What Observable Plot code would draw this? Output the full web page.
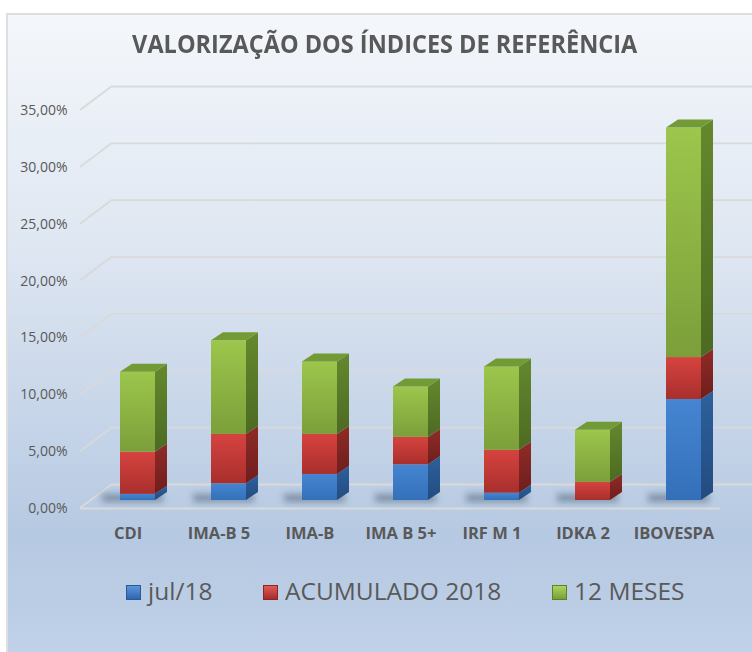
<!DOCTYPE html>
<html>
<head>
<meta charset="utf-8">
<script src="https://cdn.jsdelivr.net/npm/d3@7"></script>
<script src="https://cdn.jsdelivr.net/npm/@observablehq/plot@0.6"></script>
<style>
html, body { margin: 0; padding: 0; background: #ffffff; width: 752px; height: 652px; overflow: hidden; font-family: "Open Sans", sans-serif; }
#frame { position: absolute; left: 6px; top: 13px; width: 760px; height: 650px;
  border-left: 2px solid #dedede; border-top: 2px solid #dedede;
  background: linear-gradient(to bottom, #f4f7fb 0%, #dfe7f2 35%, #b6c9e2 80%, #c1d2e9 100%); }
#title { position: absolute; left: 0; top: 28px; width: 770px; text-align: center; }
#title span { display: inline-block; font-size: 25px; line-height: 30px; font-weight: bold; color: #595959; transform: scaleX(0.94); transform-origin: center; white-space: nowrap; }
#chart { position: absolute; left: 0; top: 75px; }
.leg { position: absolute; top: 576px; font-size: 24.5px; line-height: 30px; color: #595959; white-space: nowrap; }
.sq { position: absolute; top: 585px; width: 15px; height: 15px; box-sizing: border-box; }
</style>
</head>
<body>
<svg width="0" height="0" style="position:absolute">
  <defs>
    <linearGradient id="gBlue" x1="0" y1="0" x2="0" y2="1"><stop offset="0" stop-color="#4585d1"/><stop offset="1" stop-color="#3470ba"/></linearGradient>
    <linearGradient id="gRed" x1="0" y1="0" x2="0" y2="1"><stop offset="0" stop-color="#d6433f"/><stop offset="1" stop-color="#a82f2c"/></linearGradient>
    <linearGradient id="gGreen" x1="0" y1="0" x2="0" y2="1"><stop offset="0" stop-color="#9cc64c"/><stop offset="1" stop-color="#7c9f3a"/></linearGradient>
    <linearGradient id="sBlue" x1="0" y1="0" x2="0" y2="1"><stop offset="0" stop-color="#2d609c"/><stop offset="1" stop-color="#234c80"/></linearGradient>
    <linearGradient id="sRed" x1="0" y1="0" x2="0" y2="1"><stop offset="0" stop-color="#902b28"/><stop offset="1" stop-color="#6e1e1c"/></linearGradient>
    <linearGradient id="sGreen" x1="0" y1="0" x2="0" y2="1"><stop offset="0" stop-color="#64882e"/><stop offset="1" stop-color="#4c6a22"/></linearGradient>
    <filter id="blur" x="-50%" y="-200%" width="200%" height="500%"><feGaussianBlur stdDeviation="3"/></filter>
  </defs>
</svg>
<div id="frame"></div>
<div id="title"><span>VALORIZAÇÃO DOS ÍNDICES DE REFERÊNCIA</span></div>
<div id="chart"></div>
<div class="sq" style="left:126px;background:linear-gradient(#5b95da,#2f68ae);border:1px solid #285a95"></div>
<div class="leg" style="left:148px">jul/18</div>
<div class="sq" style="left:263px;background:linear-gradient(#e25a55,#a52d2a);border:1px solid #8c2624"></div>
<div class="leg" style="left:285px">ACUMULADO 2018</div>
<div class="sq" style="left:552px;background:linear-gradient(#aed45e,#7a9e38);border:1px solid #5f7f2b"></div>
<div class="leg" style="left:574px">12 MESES</div>
<script>
// ---- data ----
const categories = ["CDI", "IMA-B 5", "IMA-B", "IMA B 5+", "IRF M 1", "IDKA 2", "IBOVESPA"];
const seriesNames = ["jul/18", "ACUMULADO 2018", "12 MESES"];
const jul18 = [0.54, 1.47, 2.29, 3.14, 0.64, 0.00, 8.88];
const acumulado2018 = [3.71, 4.34, 3.52, 2.41, 3.77, 1.59, 3.69];
const meses12 = [7.03, 8.23, 6.38, 4.43, 7.34, 4.58, 20.18];
const yTicks = [0, 5, 10, 15, 20, 25, 30, 35];

const rows = [];
[jul18, acumulado2018, meses12].forEach((arr, s) =>
  arr.forEach((v, i) => rows.push({cat: categories[i], series: seriesNames[s], value: v})));

const frontFill = ["url(#gBlue)", "url(#gRed)", "url(#gGreen)"];
const sideFill = {"jul/18": "url(#sBlue)", "ACUMULADO 2018": "url(#sRed)", "12 MESES": "url(#sGreen)"};
const DEPTH_X = 12, DEPTH_Y = 8;     // bar depth
const WALL_X = 32, WALL_Y = 24;      // floor/wall depth
const gridColor = "#d9d9d9";

function diagonals(index, scales, values, dims) {
  const g = d3.create("svg:g");
  for (const i of index) {
    const y = values.y[i];
    g.append("line")
      .attr("x1", dims.marginLeft).attr("y1", y)
      .attr("x2", dims.marginLeft + WALL_X).attr("y2", y - WALL_Y)
      .attr("stroke", gridColor).attr("stroke-width", 1.8);
  }
  return g.node();
}

function bars3d(index, scales, values, dims, context, next) {
  const g = next(index, scales, values, dims, context);
  const rects = g.querySelectorAll("rect");
  const bw = rects.length ? +rects[0].getAttribute("width") : 35;
  const sel = d3.select(g);
  const shadow = sel.insert("g", ":first-child").attr("filter", "url(#blur)");
  const seen = new Set();
  const sideG = sel.append("g");
  const topG = sel.append("g");
  const tops = new Map();
  for (const i of index) {
    const x = values.x[i];
    const ya = Math.min(values.y1[i], values.y2[i]);
    const yb = Math.max(values.y1[i], values.y2[i]);
    const key = rows[i].cat;
    if (!seen.has(key)) {
      seen.add(key);
      shadow.append("rect").attr("x", x - 18).attr("y", yb - 6).attr("width", bw + 26).attr("height", 8)
        .attr("fill", "#1b2c42").attr("opacity", 0.38);
    }
    if (yb - ya > 0) {
      sideG.append("polygon")
        .attr("points", [[x + bw, ya], [x + bw + DEPTH_X, ya - DEPTH_Y], [x + bw + DEPTH_X, yb - DEPTH_Y], [x + bw, yb]].join(" "))
        .attr("fill", sideFill[rows[i].series]);
      if (!tops.has(key) || ya < tops.get(key).ya) tops.set(key, {x, ya, series: rows[i].series});
    }
  }
  for (const {x, ya} of tops.values()) {
    topG.append("polygon")
      .attr("points", [[x, ya], [x + DEPTH_X, ya - DEPTH_Y], [x + bw + DEPTH_X, ya - DEPTH_Y], [x + bw, ya]].join(" "))
      .attr("fill", "#739b35");
  }
  return g;
}

const plot = Plot.plot({
  width: 752,
  height: 485,
  marginLeft: 80,
  marginRight: 32,
  marginTop: 35,
  marginBottom: 52,
  style: {background: "transparent", fontFamily: "Open Sans", color: "#595959", overflow: "visible"},
  x: {domain: categories, paddingInner: 0.617, paddingOuter: 0.3085, label: null},
  y: {domain: [0, 35], label: null},
  color: {domain: seriesNames, range: frontFill},
  marks: [
    Plot.ruleY(yTicks, {dx: WALL_X, dy: -WALL_Y, stroke: gridColor, strokeWidth: 1.8}),
    Plot.ruleY(yTicks, {render: diagonals}),
    Plot.ruleY([0], {stroke: gridColor, strokeWidth: 1.8}),
    Plot.barY(rows, {x: "cat", y: "value", fill: "series", dx: 10, dy: -8, render: bars3d}),
    Plot.axisY(yTicks, {tickSize: 0, tickPadding: 13, fontSize: 14, label: null,
      tickFormat: d => d.toFixed(2).replace(".", ",") + "%"}),
    Plot.axisX({tickSize: 0, tickPadding: 19, fontSize: 16.5, fontWeight: "bold", label: null})
  ]
});
document.getElementById("chart").appendChild(plot);
</script>
</body>
</html>
